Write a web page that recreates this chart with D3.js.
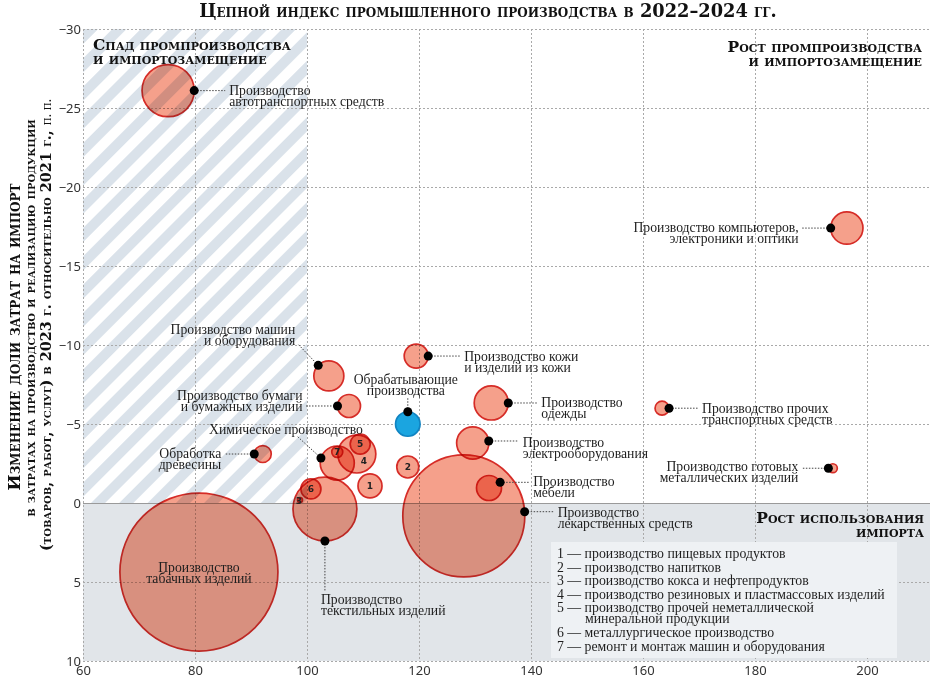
<!DOCTYPE html>
<html>
<head>
<meta charset="utf-8">
<script src="https://cdn.jsdelivr.net/npm/d3@7"></script>
<style>
  body { margin: 0; background: #fff; }
  .lbl { font-family: "Liberation Serif", serif; font-size: 13.7px; fill: #1e1e1e; }
  .leg { font-family: "Liberation Serif", serif; font-size: 13.8px; fill: #1e1e1e; }
  .head { font-family: "DejaVu Serif", serif; font-weight: bold; font-variant: small-caps; fill: #111; }
  .tick { font-family: "Noto Sans", sans-serif; font-size: 13px; fill: #333; }
</style>
</head>
<body>
<div id="chart"></div>
<script>
// sectors: chain index of production 2022-2024 (x), change in import share, p.p. (y), bubble weight
var sectors = [
  "Производство\nавтотранспортных средств",
  "Производство\nтабачных изделий",
  "Производство\nлекарственных средств",
  "Производство\nтекстильных изделий",
  "4",
  "Химическое производство",
  "Производство\nодежды",
  "Производство\nэлектрооборудования",
  "Производство компьютеров,\nэлектроники и оптики",
  "Производство машин\nи оборудования",
  "Производство\nмебели",
  "Производство кожи\nи изделий из кожи",
  "1",
  "Производство бумаги\nи бумажных изделий",
  "2",
  "5",
  "6",
  "Обработка\nдревесины",
  "Производство прочих\nтранспортных средств",
  "7",
  "Производство готовых\nметаллических изделий",
  "3",
  "Обрабатывающие\nпроизводства"
];
var prodIndex = [75.2, 80.7, 128.0, 103.2, 108.9, 105.4, 132.9, 129.6, 196.4, 103.9, 132.5,
                 119.5, 111.25, 107.5, 118.0, 109.5, 100.7, 92.1, 163.4, 105.4, 193.9, 98.75, 118.0];
var importChange = [-26.1, 4.37, 0.82, 0.38, -3.1, -2.53, -6.33, -3.8, -17.4, -8.04, -0.95,
                    -9.3, -1.08, -6.14, -2.28, -3.73, -0.89, -3.1, -6.0, -3.23, -2.2, -0.19, -5.0];
var weight = [6.8, 62.4, 37.2, 10.2, 3.6, 2.9, 2.9, 2.6, 2.6, 2.25, 1.56,
              1.44, 1.44, 1.32, 1.21, 1.0, 1.0, 0.72, 0.49, 0.3, 0.2, 0.06, 1.5];
var totalIdx = 22;

var legendItems = [
  ["1", "производство пищевых продуктов"],
  ["2", "производство напитков"],
  ["3", "производство кокса и нефтепродуктов"],
  ["4", "производство резиновых и пластмассовых изделий"],
  ["5", "производство прочей неметаллической\nминеральной продукции"],
  ["6", "металлургическое производство"],
  ["7", "ремонт и монтаж машин и оборудования"]
];
var xTicks = [60, 80, 100, 120, 140, 160, 180, 200];
var yTicks = [-30, -25, -20, -15, -10, -5, 0, 5, 10];

// label placement: dot angle on bubble edge (deg), text offset from dot, leader end offset
var layout = {
  0:  {a: 0,    dx: 35,  dy: 0,   anchor: "start", lx: 31,  ly: 0},
  1:  {inside: true},
  2:  {a: -4,   dx: 33,  dy: 1,   anchor: "start", lx: 29,  ly: 0},
  3:  {a: 90,   dx: -4,  dy: 59,  anchor: "start", lx: 0,   ly: 50},
  5:  {a: 197,  dx: 42,  dy: -28, anchor: "end",   lx: -24, ly: -22},
  6:  {a: 0,    dx: 33,  dy: 0,   anchor: "start", lx: 29,  ly: 0},
  7:  {a: -7,   dx: 34,  dy: 2,   anchor: "start", lx: 30,  ly: 0},
  8:  {a: 180,  dx: -32, dy: 0,   anchor: "end",   lx: -29, ly: 0},
  9:  {a: 225,  dx: -23, dy: -35, anchor: "end",   lx: -20, ly: -21},
  10: {a: -27,  dx: 33,  dy: 0,   anchor: "start", lx: 29,  ly: 0},
  11: {a: 0,    dx: 36,  dy: 1,   anchor: "start", lx: 32,  ly: 0},
  13: {a: 180,  dx: -35, dy: -10, anchor: "end",   lx: -32, ly: 0},
  17: {a: 180,  dx: -33, dy: 0,   anchor: "end",   lx: -30, ly: 0},
  18: {a: 0,    dx: 33,  dy: 1,   anchor: "start", lx: 29,  ly: 0},
  20: {a: 180,  dx: -30, dy: -1,  anchor: "end",   lx: -27, ly: 0},
  22: {a: 270,  dx: -2,  dy: -32, anchor: "middle", lx: 0,  ly: -15}
};
var numShift = {"4": [7, 7], "3": [-1, 1]};

var svgWidth = 930, svgHeight = 683;
var svg = d3.select("#chart").append("svg")
  .attr("width", svgWidth)
  .attr("height", svgHeight);

var x = d3.scaleLinear().domain([60, 211.25]).range([83, 930]);
var y = d3.scaleLinear().domain([-30, 10]).range([29, 661]);
var r = d3.scaleSqrt().domain([0, 62.4]).range([0, 79]);

var defs = svg.append("defs");
var pat = defs.append("pattern")
  .attr("id", "hatch")
  .attr("patternUnits", "userSpaceOnUse")
  .attr("width", 20).attr("height", 20)
  .attr("patternTransform", "rotate(45)");
pat.append("rect").attr("width", 20).attr("height", 20).attr("fill", "#fff");
pat.append("rect").attr("width", 10).attr("height", 20).attr("fill", "#dae2ea");

// zones
svg.append("rect")
  .attr("x", x(60)).attr("y", y(0))
  .attr("width", x.range()[1] - x(60)).attr("height", y(10) - y(0))
  .attr("fill", "#e1e5e9");
svg.append("rect")
  .attr("x", x(60)).attr("y", y(-30))
  .attr("width", x(100) - x(60)).attr("height", y(0) - y(-30))
  .attr("fill", "url(#hatch)");

// grid
var grid = svg.append("g").attr("stroke", "#a9a9a9").attr("stroke-width", 1)
  .attr("stroke-dasharray", "2,2");
grid.selectAll(".gx").data(xTicks).enter().append("line")
  .attr("x1", d => x(d) + 0.5).attr("x2", d => x(d) + 0.5)
  .attr("y1", y(-30)).attr("y2", y(10));
grid.selectAll(".gy").data(yTicks.filter(d => d !== 0)).enter().append("line")
  .attr("x1", x(60)).attr("x2", x.range()[1])
  .attr("y1", d => Math.round(y(d)) + 0.5).attr("y2", d => Math.round(y(d)) + 0.5);
svg.append("line")
  .attr("x1", x(60)).attr("x2", x.range()[1])
  .attr("y1", Math.round(y(0)) + 0.5).attr("y2", Math.round(y(0)) + 0.5)
  .attr("stroke", "#9a9a9a").attr("stroke-width", 1.2);

// quadrant headings
function multiline(sel, text, lh) {
  text.split("\n").forEach(function (t, i) {
    sel.append("tspan").attr("x", sel.attr("x")).attr("dy", i === 0 ? 0 : lh).text(t);
  });
}
var heads = [
  {t: "Спад промпроизводства\nи импортозамещение", x: 93, y: 50, a: "start"},
  {t: "Рост промпроизводства\nи импортозамещение", x: 922, y: 52, a: "end"},
  {t: "Рост использования\nимпорта", x: 924, y: 523, a: "end"}
];
heads.forEach(function (h) {
  var t = svg.append("text").attr("class", "head").attr("font-size", 15.5)
    .attr("x", h.x).attr("y", h.y).attr("text-anchor", h.a);
  multiline(t, h.t, 14);
});

// legend box
svg.append("rect").attr("x", 551).attr("y", 542).attr("width", 346).attr("height", 116)
  .attr("fill", "#eef1f4");
var ly0 = 558;
legendItems.forEach(function (it) {
  var parts = it[1].split("\n");
  var t = svg.append("text").attr("class", "leg").attr("x", 557).attr("y", ly0);
  t.append("tspan").text(it[0] + " — " + parts[0]);
  ly0 += 13.6;
  if (parts[1]) {
    ly0 -= 2.6;
    svg.append("text").attr("class", "leg").attr("x", 585).attr("y", ly0).text(parts[1]);
    ly0 += 13.6;
  }
});

// bubbles
var rows = sectors.map(function (s, i) {
  return {i: i, name: s, x: prodIndex[i], y: importChange[i], w: weight[i]};
});
var order = rows.slice().sort((a, b) => b.w - a.w);

svg.append("g").selectAll("circle")
  .data(order)
  .enter()
  .append("circle")
  .attr("cx", d => x(d.x))
  .attr("cy", d => y(d.y))
  .attr("r", d => r(d.w))
  .attr("fill", d => d.i === totalIdx ? "#1ba5e0" : "#f5a08b")
  .attr("stroke", d => d.i === totalIdx ? "#1184c2" : "#d62c27")
  .attr("stroke-width", 1.7)
  .style("mix-blend-mode", d => d.i === totalIdx ? "normal" : "multiply");

// numbered bubbles
rows.filter(d => /^\d$/.test(d.name)).forEach(function (d) {
  var s = numShift[d.name] || [0, 0];
  svg.append("text")
    .attr("x", x(d.x) + s[0]).attr("y", y(d.y) + s[1] + 3.2)
    .attr("text-anchor", "middle")
    .attr("font-family", "DejaVu Sans, sans-serif").attr("font-weight", "bold")
    .attr("font-size", 9).attr("fill", "#222")
    .text(d.name);
});

// labels, leaders and dots
rows.forEach(function (d) {
  var L = layout[d.i];
  if (!L) return;
  var cx = x(d.x), cy = y(d.y), rr = r(d.w);
  if (L.inside) {
    var ti = svg.append("text").attr("class", "lbl").attr("text-anchor", "middle")
      .attr("x", cx).attr("y", cy);
    multiline(ti, d.name, 11);
    return;
  }
  var ang = L.a * Math.PI / 180;
  var px = cx + rr * Math.cos(ang), py = cy + rr * Math.sin(ang);
  svg.append("line")
    .attr("x1", px).attr("y1", py)
    .attr("x2", px + L.lx).attr("y2", py + L.ly)
    .attr("stroke", "#444").attr("stroke-width", 1)
    .attr("stroke-dasharray", "1.5,1.5");
  svg.append("circle").attr("cx", px).attr("cy", py).attr("r", 4.5).attr("fill", "#000");
  var t = svg.append("text").attr("class", "lbl").attr("text-anchor", L.anchor)
    .attr("x", px + L.dx).attr("y", py + L.dy + 4);
  multiline(t, d.name, 11);
});

// axes tick labels
var xAxis = d3.axisBottom(x).tickValues(xTicks).tickSize(0).tickPadding(0);
var gx = svg.append("g").attr("transform", "translate(0," + 666 + ")").call(xAxis);
gx.select(".domain").remove();
gx.selectAll("text").attr("class", "tick").attr("dy", "0.71em");

var yAxis = d3.axisLeft(y).tickValues(yTicks).tickSize(0).tickPadding(0);
var gy = svg.append("g").attr("transform", "translate(" + 81 + ",0)").call(yAxis);
gy.select(".domain").remove();
gy.selectAll("text").attr("class", "tick");
gx.attr("font-size", null).attr("font-family", null);
gy.attr("font-size", null).attr("font-family", null);

// title
svg.append("text").attr("class", "head").attr("font-size", 17.8)
  .attr("x", 488).attr("y", 17).attr("text-anchor", "middle")
  .text("Цепной индекс промышленного производства в 2022–2024 гг.");

// y axis title, one text per line
var yTitle = [
  {t: "Изменение доли затрат на импорт", x: 20, c: 337, fs: 17},
  {t: "в затратах на производство и реализацию продукции", x: 35, c: 318, fs: 14.4},
  {t: "(товаров, работ, услуг) в 2023 г. относительно 2021 г., ", x: 51, c: 325, fs: 14.4, tail: "п. п."}
];
yTitle.forEach(function (l) {
  var t = svg.append("text").attr("class", "head").attr("font-size", l.fs)
    .attr("text-anchor", "middle")
    .attr("transform", "translate(" + l.x + "," + l.c + ") rotate(-90)")
    .text(l.t);
  if (l.tail) {
    t.append("tspan").style("font-weight", "normal").style("font-variant", "normal")
      .style("font-family", "Liberation Serif, serif").text(l.tail);
  }
});
</script>
</body>
</html>
